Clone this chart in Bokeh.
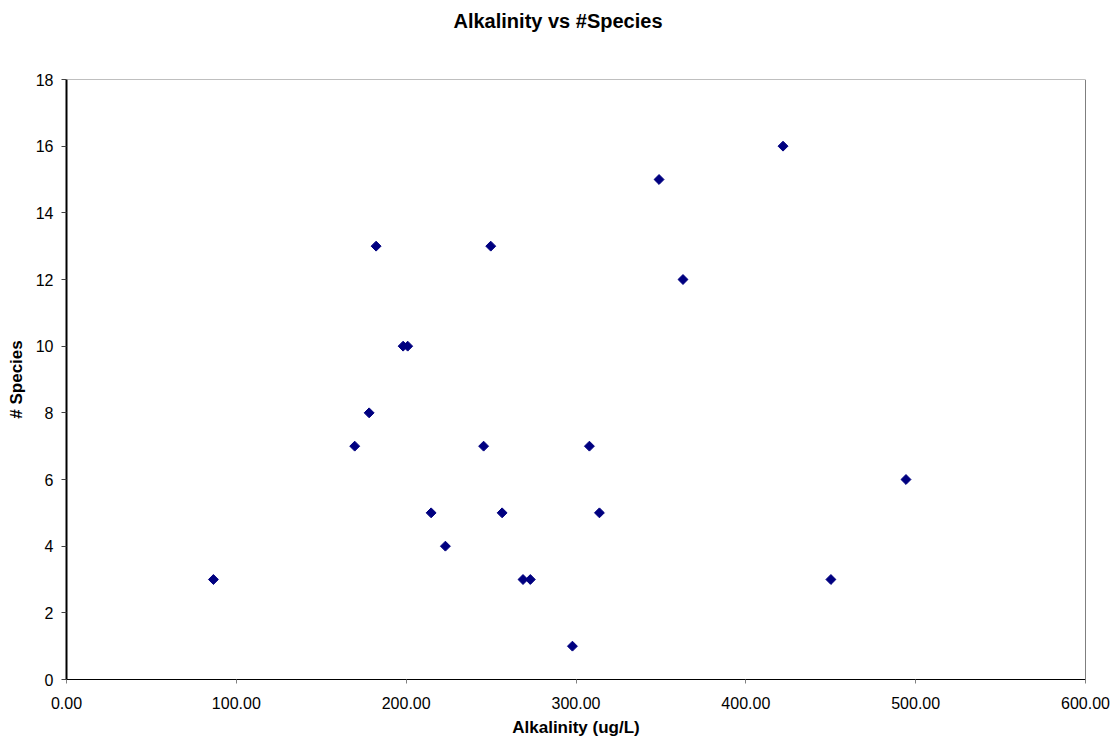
from bokeh.plotting import figure
from bokeh.models import Range1d, NumeralTickFormatter, FixedTicker, Span, Title
from bokeh.embed import file_html
from bokeh.resources import INLINE

# Alkalinity (ug/L) and number of species per sample
alkalinity = [86.5, 169.7, 178.2, 182.3, 198.2, 200.9, 214.7, 223.1, 245.6, 249.8,
              256.5, 268.8, 273.1, 297.9, 307.9, 313.8, 348.9, 363.0, 421.9, 450.1, 494.3]
species = [3, 7, 8, 13, 10, 10, 5, 4, 7, 13,
           5, 3, 3, 1, 7, 5, 15, 12, 16, 3, 6]

x_ticks = [0, 100, 200, 300, 400, 500, 600]
y_ticks = [0, 2, 4, 6, 8, 10, 12, 14, 16, 18]

FONT = "Liberation Sans"

p = figure(width=1117, height=744, output_backend="svg", toolbar_location=None,
           x_range=Range1d(0, 600), y_range=Range1d(0, 18),
           min_border_left=66, min_border_right=32, min_border_top=79, min_border_bottom=65)

p.outline_line_color = None
p.background_fill_color = "white"
p.border_fill_color = "white"
p.grid.visible = False

# chart title, centred over the whole canvas, with extra space below it
p.title = None
p.add_layout(Title(text="Alkalinity vs #Species", align="left", offset=387,
                   standoff=0, padding=dict(left=0, right=0, top=0, bottom=48),
                   text_font=FONT, text_font_size="20px", text_font_style="bold",
                   text_color="black"),
             "above")

p.add_layout(Span(location=18, dimension="width", line_color="#808080", line_width=1))
p.add_layout(Span(location=600, dimension="height", line_color="black", line_width=1))

p.scatter(alkalinity, species, marker="square", size=7, angle=0.785398,
          fill_color="#000080", line_color="#000080")

xa = p.xaxis[0]
xa.ticker = FixedTicker(ticks=x_ticks)
xa.formatter = NumeralTickFormatter(format="0.00")
xa.axis_label = "Alkalinity (ug/L)"
xa.axis_line_color = "black"
xa.major_tick_out = 4
xa.major_tick_in = 0
xa.major_tick_line_color = "#808080"
xa.minor_tick_line_color = None
xa.major_label_standoff = 13
xa.axis_label_standoff = 6

ya = p.yaxis[0]
ya.ticker = FixedTicker(ticks=y_ticks)
ya.axis_label = "# Species"
ya.axis_line_color = "black"
ya.axis_line_width = 2
ya.major_tick_out = 5
ya.major_tick_in = 0
ya.major_tick_line_color = "#404040"
ya.minor_tick_line_color = None
ya.major_label_standoff = 8
ya.axis_label_standoff = 7

for ax in (xa, ya):
    ax.major_label_text_font = FONT
    ax.major_label_text_font_size = "16px"
    ax.major_label_text_color = "black"
    ax.axis_label_text_font = FONT
    ax.axis_label_text_font_size = "17px"
    ax.axis_label_text_font_style = "bold"
    ax.axis_label_text_color = "black"

open("out.html", "w").write(file_html(p, INLINE))
